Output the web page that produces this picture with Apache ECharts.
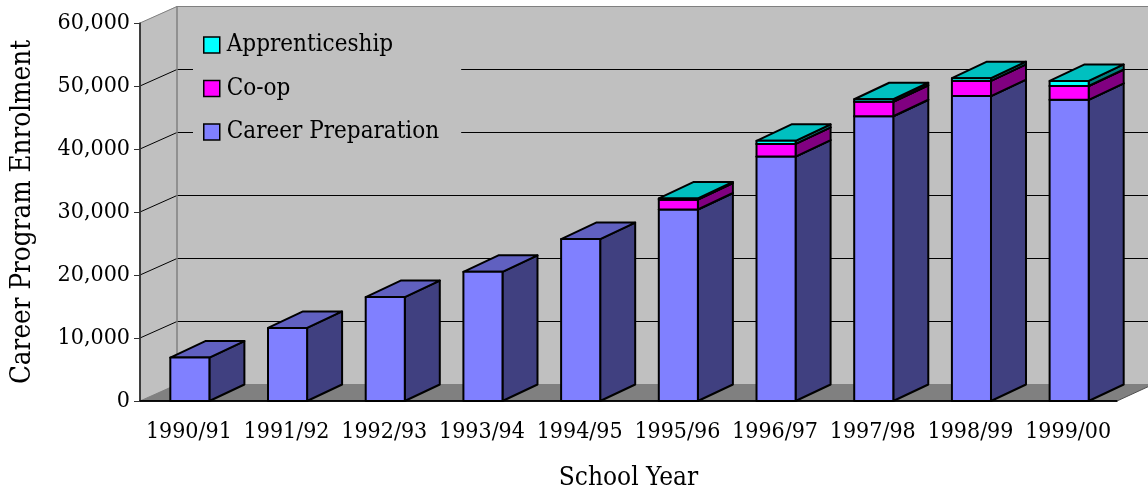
<!DOCTYPE html>
<html>
<head>
<meta charset="utf-8">
<title>Career Program Enrolment</title>
<script src="https://cdn.jsdelivr.net/npm/echarts@6/dist/echarts.min.js"></script>
<style>
    html, body { margin: 0; padding: 0; background: #fff; }
    #chart { width: 1148px; height: 490px; }
</style>
</head>
<body>
<div id="chart"></div>
<script>
    // x axis categories
    let schoolYears = ['1990/91', '1991/92', '1992/93', '1993/94', '1994/95',
        '1995/96', '1996/97', '1997/98', '1998/99', '1999/00']
    // enrolment per program, stacked bottom to top
    let careerPreparation = [6900, 11600, 16500, 20500, 25700, 30400, 38800, 45200, 48400, 47800]
    let coop = [0, 0, 0, 0, 0, 1550, 2000, 2300, 2400, 2200]
    let apprenticeship = [0, 0, 0, 0, 0, 200, 500, 400, 450, 800]
    // y axis tick labels
    let enrolmentTicks = [0, 10000, 20000, 30000, 40000, 50000, 60000]

    // depth of the fake 3d box
    const WALL_DX = 37, WALL_DY = -17
    const BAR_DX = 35, BAR_DY = -16.5
    const FONT = '"DejaVu Serif Condensed", "DejaVu Serif", serif'

    // back wall, side wall, floor and gridlines
    function renderWalls (params, api) {
        let cs = params.coordSys
        let x0 = cs.x, x1 = cs.x + cs.width
        let yB = cs.y + cs.height, yT = cs.y
        let children = [
            {type: 'polygon', shape: {points: [[x0, yB], [x0, yT], [x0 + WALL_DX, yT + WALL_DY], [x0 + WALL_DX, yB + WALL_DY]]},
                style: {fill: '#c0c0c0'}},
            {type: 'rect', shape: {x: x0 + WALL_DX, y: yT + WALL_DY, width: x1 - x0, height: yB - yT},
                style: {fill: '#c0c0c0'}},
            {type: 'polygon', shape: {points: [[x0, yB], [x1, yB], [x1 + WALL_DX, yB + WALL_DY], [x0 + WALL_DX, yB + WALL_DY]]},
                style: {fill: '#808080'}}
        ]
        enrolmentTicks.forEach(t => {
            let y = api.coord([0, t])[1]
            let yBack = Math.round(y + WALL_DY) + 0.5
            let edge = t === enrolmentTicks[0] || t === enrolmentTicks[enrolmentTicks.length - 1]
            let color = edge ? '#808080' : '#000'
            children.push({type: 'polyline',
                shape: {points: [[x0, y], [x0 + WALL_DX, yBack], [x1 + WALL_DX + 10, yBack]]},
                style: {stroke: color, lineWidth: 1, fill: null}})
        })
        children.push({type: 'line', shape: {x1: x0 + WALL_DX, y1: yT + WALL_DY, x2: x0 + WALL_DX, y2: yB + WALL_DY},
            style: {stroke: '#808080', lineWidth: 1.5}})
        children.push({type: 'line', shape: {x1: x1, y1: yB, x2: x1 + WALL_DX, y2: yB + WALL_DY},
            style: {stroke: '#505050', lineWidth: 1}})
        children.push({type: 'line', shape: {x1: x0, y1: yT, x2: x0, y2: yB},
            style: {stroke: '#333', lineWidth: 1.5}})
        children.push({type: 'line', shape: {x1: x0, y1: yB, x2: x1, y2: yB},
            style: {stroke: '#000', lineWidth: 1.5}})
        return {type: 'group', children: children}
    }

    // one segment of a 3d stacked bar
    function barRenderer (front, top, side) {
        return function (params, api) {
            let idx = api.value(0)
            let value = api.value(1)
            let base = api.value(2)
            if (!value) return null
            let pb = api.coord([idx, base])
            let pt = api.coord([idx, base + value])
            let bw = api.size([1, 0])[0] * 0.4
            let x0 = pb[0] - bw / 2 + 1, x1 = x0 + bw
            let yb = pb[1], yt = pt[1]
            let line = {stroke: '#000', lineWidth: 2, lineJoin: 'round'}
            return {
                type: 'group',
                children: [
                    {type: 'polygon', shape: {points: [[x1, yb], [x1, yt], [x1 + BAR_DX, yt + BAR_DY], [x1 + BAR_DX, yb + BAR_DY]]},
                        style: Object.assign({fill: side}, line)},
                    {type: 'polygon', shape: {points: [[x0, yt], [x1, yt], [x1 + BAR_DX, yt + BAR_DY], [x0 + BAR_DX, yt + BAR_DY]]},
                        style: Object.assign({fill: top}, line)},
                    {type: 'rect', shape: {x: x0, y: yt, width: bw, height: yb - yt},
                        style: Object.assign({fill: front}, line)}
                ]
            }
        }
    }

    let coopBase = careerPreparation.slice()
    let appBase = careerPreparation.map((v, i) => v + coop[i])
    let toData = (values, bases) => values.map((v, i) => [i, v, bases ? bases[i] : 0])

    let chart = echarts.init(document.getElementById('chart'))
    chart.setOption({
        animation: false,
        textStyle: {fontFamily: FONT, color: '#000'},
        grid: {left: 140, right: 31, top: 23, bottom: 89, containLabel: false, outerBoundsMode: 'none'},
        legend: {
            data: ['Apprenticeship', 'Co-op', 'Career Preparation'],
            orient: 'vertical',
            left: 193,
            top: 28,
            padding: [5, 22, 6, 10],
            backgroundColor: '#c0c0c0',
            itemWidth: 16,
            itemHeight: 16,
            itemGap: 19.5,
            icon: 'rect',
            itemStyle: {borderColor: '#000', borderWidth: 1.5},
            textStyle: {fontFamily: FONT, fontSize: 24, lineHeight: 22, color: '#000', padding: [0, 0, 0, 2]}
        },
        xAxis: {
            type: 'category',
            data: schoolYears,
            z: 5,
            name: 'School Year',
            nameLocation: 'middle',
            nameGap: 64,
            nameTextStyle: {fontFamily: FONT, fontSize: 26, color: '#000'},
            axisLine: {lineStyle: {color: '#000', width: 1.5}},
            axisTick: {length: 6, lineStyle: {color: '#000'}},
            axisLabel: {fontFamily: FONT, fontSize: 23, color: '#000', margin: 20, interval: 0}
        },
        yAxis: {
            type: 'value',
            min: enrolmentTicks[0],
            max: enrolmentTicks[enrolmentTicks.length - 1],
            interval: 10000,
            z: 5,
            name: 'Career Program Enrolment',
            nameLocation: 'middle',
            nameGap: 103,
            nameTextStyle: {fontFamily: FONT, fontSize: 27.5, color: '#000'},
            axisLine: {show: true, lineStyle: {color: '#333', width: 1.5}},
            axisTick: {show: true, length: 6, lineStyle: {color: '#333'}},
            axisLabel: {fontFamily: FONT, fontSize: 23, color: '#000', margin: 10,
                formatter: v => v.toLocaleString('en-US')},
            splitLine: {show: false}
        },
        series: [
            {
                type: 'custom',
                silent: true,
                z: 1,
                renderItem: renderWalls,
                data: [[0, 0]]
            },
            {
                name: 'Career Preparation',
                type: 'custom',
                z: 2,
                itemStyle: {color: '#8080ff'},
                renderItem: barRenderer('#8080ff', '#6060c0', '#404080'),
                data: toData(careerPreparation)
            },
            {
                name: 'Co-op',
                type: 'custom',
                z: 2,
                itemStyle: {color: '#ff00ff'},
                renderItem: barRenderer('#ff00ff', '#c000c0', '#800080'),
                data: toData(coop, coopBase)
            },
            {
                name: 'Apprenticeship',
                type: 'custom',
                z: 2,
                itemStyle: {color: '#00ffff'},
                renderItem: barRenderer('#00ffff', '#00c0c0', '#008080'),
                data: toData(apprenticeship, appBase)
            }
        ]
    })
    window.onresize = function () {
        chart.resize()
    }
</script>
</body>
</html>
